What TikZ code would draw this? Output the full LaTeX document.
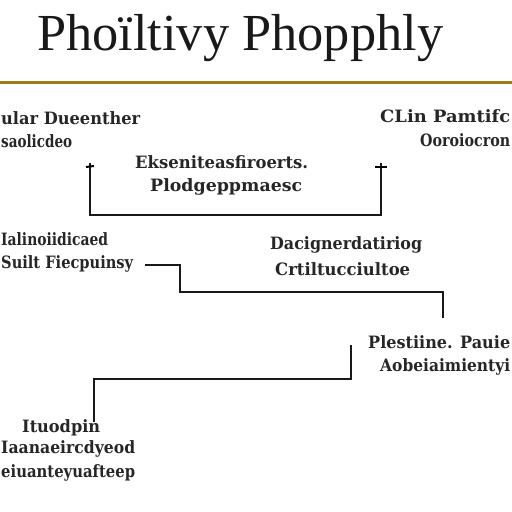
\documentclass[tikz,border=0pt]{standalone}
\usepackage{fontspec}
\usepackage{graphicx}
\setmainfont{DejaVu Serif}
\newfontfamily\titlefont{Liberation Serif}
\definecolor{rulegold}{HTML}{9B7B1E}
\newcommand{\wfit}[2]{\resizebox{#1pt}{\height}{#2}}
\begin{document}
\begin{tikzpicture}[x=1pt,y=-1pt,
  lbl/.style={inner sep=0pt,font=\bfseries\fontsize{17}{20}\selectfont,text=black!85},
  conn/.style={line width=2.8pt,black!90}]
\useasboundingbox (0,0) rectangle (512,512);
\fill[white] (0,0) rectangle (512,512);
% title and rule
\node[inner sep=0pt,anchor=base west,font=\titlefont\fontsize{52}{60}\selectfont,text=black!90] (title) at (37,50) {\wfit{406}{Phoïltivy Phopphly}};
\coordinate (ruleL) at (0,82.5);
\coordinate (ruleR) at (512,82.5);
\draw[rulegold,line width=3pt] (ruleL) -- (ruleR);
% top left
\node[lbl,anchor=base west] (tl1) at (1,124) {\wfit{139}{ular Dueenther}};
\node[lbl,anchor=base west] (tl2) at (1,147) {\wfit{71}{saolicdeo}};
% centre
\node[lbl,anchor=base west] (c1) at (135,168) {\wfit{173}{Ekseniteasfiroerts.}};
\node[lbl,anchor=base west] (c2) at (150,191) {\wfit{152}{Plodgeppmaesc}};
% top right
\node[lbl,anchor=base west] (tr1) at (380,122) {\wfit{130}{CLin Pamtifc}};
\node[lbl,anchor=base west] (tr2) at (420,146) {\wfit{90}{Ooroiocron}};
% left middle
\node[lbl,anchor=base west] (lm1) at (1,245) {\wfit{107}{Ialinoiidicaed}};
\node[lbl,anchor=base west] (lm2) at (1,268) {\wfit{132}{Suilt Fiecpuinsy}};
% right middle
\node[lbl,anchor=base west] (mr1) at (270,249) {\wfit{152}{Dacignerdatiriog}};
\node[lbl,anchor=base west] (mr2) at (275,275) {\wfit{135}{Crtiltucciultoe}};
% lower right
\node[lbl,anchor=base west] (lr1) at (368,348) {\wfit{142}{Plestiine. Pauie}};
\node[lbl,anchor=base west] (lr2) at (380,371) {\wfit{130}{Aobeiaimientyi}};
% bottom left
\node[lbl,anchor=base west] (bl1) at (22,432) {\wfit{78}{Ituodpin}};
\node[lbl,anchor=base west] (bl2) at (1,453) {\wfit{134}{Iaanaeircdyeod}};
\node[lbl,anchor=base west] (bl3) at (1,477) {\wfit{134}{eiuanteyuafteep}};
% connectors
\coordinate (bL) at (90,163);
\coordinate (bR) at (381,163);
\draw[conn] (bL) -- ++(0,52) -| (bR);
\draw[line width=2pt] (86,167) -- (94,166);
\draw[line width=2pt] (375,167) -- (387,167);
\coordinate (kA) at (145,265);
\coordinate (kB) at (443,318);
\draw[conn] (kA) -| (180,292) -| (kB);
\coordinate (mA) at (351,345);
\coordinate (mB) at (94,422);
\draw[conn] (mA) -- (351,379) -| (mB);
\end{tikzpicture}
\end{document}
